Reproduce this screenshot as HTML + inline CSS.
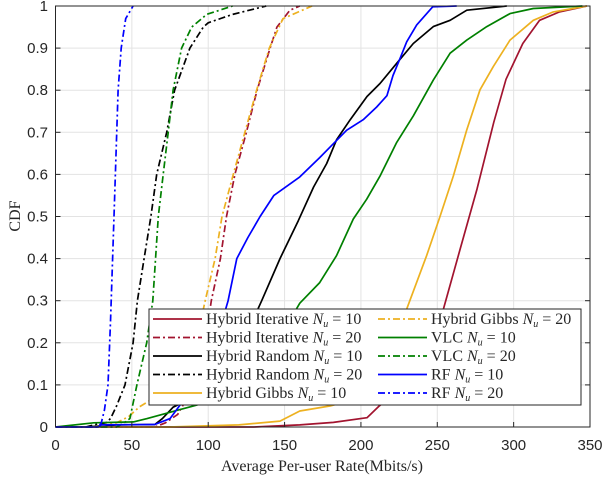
<!DOCTYPE html>
<html><head><meta charset="utf-8"><style>
body{margin:0;background:#fff}
svg text{font-family:"Liberation Sans",sans-serif}
.serif{font-family:"Liberation Serif",serif}
</style></head><body>
<svg id="chart" width="604" height="476" viewBox="0 0 604 476">
<g id="grid"></g>
<g id="series"></g>
<rect x="55.5" y="6" width="534.5" height="421" fill="none" stroke="#262626" stroke-width="1"/>
<g id="ticks"></g>
<text x="322" y="471" text-anchor="middle" class="serif" font-size="16" fill="#262626">Average Per-user Rate(Mbits/s)</text>
<text transform="translate(20,216) rotate(-90)" text-anchor="middle" class="serif" font-size="16" fill="#262626">CDF</text>
<g id="legend"></g>
</svg>
<script>
const xTicks=[0,50,100,150,200,250,300,350];
const yTicks=[0,0.1,0.2,0.3,0.4,0.5,0.6,0.7,0.8,0.9,1];
const yTickLabels=["0","0.1","0.2","0.3","0.4","0.5","0.6","0.7","0.8","0.9","1"];
const seriesNames=["Hybrid Iterative","Hybrid Iterative","Hybrid Random","Hybrid Random","Hybrid Gibbs","Hybrid Gibbs","VLC","VLC","RF","RF"];
const seriesNu=[10,20,10,20,10,20,10,20,10,20];
const colors=["#A2142F","#A2142F","#000000","#000000","#EDB120","#EDB120","#008000","#008000","#0000FF","#0000FF"];
const iter10=[[0,0],[130,0],[160,0.005],[182,0.011],[204,0.022],[212,0.05],[230,0.1],[245,0.18],[254,0.28],[265,0.423],[276,0.565],[287,0.724],[295,0.826],[306,0.911],[317,0.966],[330,0.986],[348,1]];
const iter20=[[0,0],[65,0],[72,0.01],[80,0.03],[88,0.08],[95,0.16],[100,0.25],[102,0.3],[108,0.4],[112,0.5],[117.5,0.6],[125,0.7],[132,0.8],[140.5,0.9],[145,0.95],[153.5,0.99],[160,1]];
const rand10=[[0,0],[20,0],[40,0.005],[65,0.006],[70,0.02],[77,0.047],[90,0.07],[110,0.13],[125,0.22],[135,0.3],[147,0.4],[159,0.49],[169,0.57],[177.6,0.626],[184,0.682],[193,0.73],[204,0.785],[212.5,0.816],[223.4,0.864],[234.3,0.911],[247.4,0.951],[258.4,0.966],[269.3,0.99],[295.5,1]];
const rand20=[[0,0],[20,0],[25,0.005],[33,0.01],[36,0.02],[40,0.05],[45.5,0.1],[50.8,0.2],[53.6,0.3],[58,0.4],[62.5,0.5],[66.3,0.6],[72.8,0.7],[78,0.8],[88,0.9],[96.8,0.95],[100,0.96],[116,0.98],[138,1]];
const gibbs10=[[0,0],[75,0],[120,0.005],[147,0.014],[160,0.038],[180,0.05],[200,0.07],[215,0.13],[225,0.22],[230,0.28],[243,0.407],[251.8,0.5],[260.5,0.596],[269.3,0.706],[278,0.801],[286.7,0.856],[297.6,0.919],[312.9,0.966],[326,0.986],[348,1]];
const gibbs20=[[0,0],[25,0],[40,0.01],[48,0.025],[55,0.048],[65,0.07],[80,0.11],[90,0.18],[95,0.25],[98,0.3],[104.5,0.4],[109,0.5],[116.4,0.6],[124,0.7],[131.7,0.8],[140,0.9],[149,0.97],[168,1]];
const vlc10=[[0,0],[25,0.01],[51,0.012],[60,0.02],[80,0.04],[92.5,0.052],[110,0.08],[130,0.14],[148,0.22],[160,0.294],[173,0.343],[184,0.407],[195,0.494],[203.8,0.541],[212.5,0.596],[223.4,0.676],[234.3,0.739],[247.4,0.824],[258.4,0.888],[269.3,0.919],[282.4,0.951],[297.6,0.982],[312.9,0.994],[345,1]];
const vlc20=[[0,0],[40,0],[45,0.01],[48.7,0.02],[53.3,0.1],[59.7,0.2],[63.7,0.3],[67.3,0.5],[70.5,0.6],[73.8,0.7],[77,0.8],[82.6,0.9],[89.2,0.95],[99,0.98],[116,1]];
const rf10=[[0,0],[28,0],[30,0.005],[65,0.006],[75,0.02],[81.5,0.052],[95,0.1],[105,0.2],[113,0.3],[118.7,0.4],[126,0.45],[134,0.5],[143,0.55],[160,0.594],[173,0.64],[182,0.673],[190.7,0.705],[201.5,0.73],[210.3,0.76],[217,0.787],[221,0.835],[225.6,0.875],[230,0.915],[236.5,0.955],[247,0.998],[262.7,1]];
const rf20=[[0,0],[28,0],[30,0.01],[32,0.04],[34.4,0.1],[36,0.25],[38.3,0.5],[41,0.8],[43,0.9],[46,0.97],[50.8,1]];
const allSeries=[iter10,iter20,rand10,rand20,gibbs10,gibbs20,vlc10,vlc20,rf10,rf20];
const seriesKeys=["hybrid-iterative-10","hybrid-iterative-20","hybrid-random-10","hybrid-random-20","hybrid-gibbs-10","hybrid-gibbs-20","vlc-10","vlc-20","rf-10","rf-20"];

const NS="http://www.w3.org/2000/svg";
const X0=55.5,X1=590,Y0=427,Y1=6;
const sx=v=>X0+(v/350)*(X1-X0);
const sy=v=>Y0-v*(Y0-Y1);
function mk(tag,attrs,parent){const e=document.createElementNS(NS,tag);for(const k in attrs)e.setAttribute(k,attrs[k]);parent.appendChild(e);return e;}
const grid=document.getElementById('grid'),ticks=document.getElementById('ticks'),ser=document.getElementById('series'),leg=document.getElementById('legend');
xTicks.forEach((t,i)=>{
  const g=mk('line',{x1:sx(t),x2:sx(t),y1:Y0,y2:Y1,stroke:'#e3e3e3','stroke-width':1},grid);
  
  
  const tk=mk('line',{x1:sx(t),x2:sx(t),y1:Y0,y2:Y0-5,stroke:'#262626'},ticks);
  
  
  const tx=mk('text',{x:sx(t),y:450,'text-anchor':'middle','font-size':15,fill:'#262626'},ticks);
  tx.textContent=String(t);
  
  
});
yTicks.forEach((t,i)=>{
  const g=mk('line',{x1:X0,x2:X1,y1:sy(t),y2:sy(t),stroke:'#e3e3e3','stroke-width':1},grid);
  
  
  const tk=mk('line',{x1:X0,x2:X0+5,y1:sy(t),y2:sy(t),stroke:'#262626'},ticks);
  
  
  const tk2=mk('line',{x1:X1,x2:X1-5,y1:sy(t),y2:sy(t),stroke:'#262626'},ticks);
  
  
  const tx=mk('text',{x:48,y:sy(t)+5,'text-anchor':'end','font-size':15,fill:'#262626'},ticks);
  tx.textContent=yTickLabels[i];
  
  
});
allSeries.forEach((d,i)=>{
  const p=mk('polyline',{points:d.map(q=>sx(q[0]).toFixed(1)+','+sy(q[1]).toFixed(1)).join(' '),fill:'none',stroke:colors[i],'stroke-width':1.7,'stroke-linejoin':'round','stroke-dasharray':(i%2)?'7,3,2,3':'none'},ser);
  
  
});
const lb=mk('rect',{x:149,y:309,width:432,height:96,fill:'#fff',stroke:'#262626','stroke-width':1},leg);


for(let k=0;k<10;k++){
  const si=k;
  const col=k<5?0:1,row=k<5?k:k-5;
  const lx=col?378:153,ty=319+row*18.5;
  const g=mk('g',{},leg);
  
  
  mk('line',{x1:lx,x2:lx+49,y1:ty,y2:ty,stroke:colors[si],'stroke-width':1.7,'stroke-dasharray':(si%2)?'7,3,2,3':'none'},g);
  const t=mk('text',{x:lx+53,y:ty+5,'font-size':16,fill:'#262626',class:'serif'},g);
  t.innerHTML=seriesNames[si]+' <tspan font-style="italic">N</tspan><tspan font-style="italic" font-size="10" dy="3">u</tspan><tspan dy="-3"> = '+seriesNu[si]+'</tspan>';
}
</script>
</body></html>
